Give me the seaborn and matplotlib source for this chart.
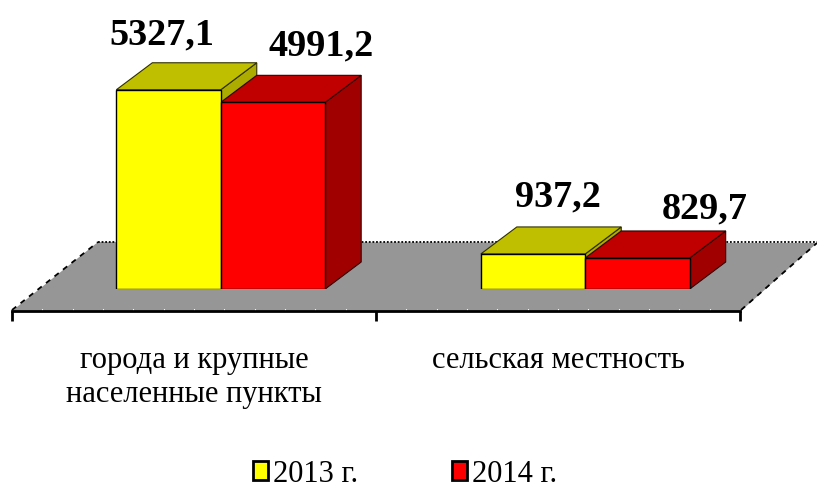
import matplotlib.pyplot as plt
import matplotlib.patches as mpatches
import pandas as pd
import seaborn as sns

categories = ["города и крупные\nнаселенные пункты", "сельская местность"]
years = ["2013 г.", "2014 г."]
values_2013 = [5327.1, 937.2]
values_2014 = [4991.2, 829.7]

W, H = 817, 490
# pixels per unit of value, bar plane
SCALE = 0.0374
BASE_Y = 289
DEPTH_PX = (36, 27)
# hand placed value labels in the original (px from top-left corner of front face)
LABEL_OFFSETS = [[(46, -55), (100, -56)], [(77, -57), (119, -49)]]

df = pd.DataFrame({
    "cat": categories * 2,
    "year": [years[0]] * 2 + [years[1]] * 2,
    "value": values_2013 + values_2014,
})

sns.set_theme(style="white")
plt.rcParams["font.family"] = ["Liberation Serif", "DejaVu Serif"]

fig = plt.figure(figsize=(W / 100, H / 100), dpi=100)

# floor and back edges, in pixels
bg = fig.add_axes([0, 0, 1, 1])
bg.set_xlim(0, W)
bg.set_ylim(H, 0)
bg.axis("off")
floor = [(12, 311), (741, 311), (817, 243), (98, 242)]
bg.add_patch(mpatches.Polygon(floor, closed=True, facecolor="#969696", edgecolor="none"))
bg.plot([98, 817], [242, 242], color="black", lw=1.3, ls=(0, (1, 1)))
bg.plot([12, 98], [310, 242], color="black", lw=1.3, ls=(0, (3, 3)))
bg.plot([741, 817], [310, 243], color="black", lw=1.3, ls=(0, (3, 3)))

# front axis with the category labels
axis_ax = fig.add_axes([12 / W, (H - 311) / H, 728 / W, 0.001])
axis_ax.patch.set_alpha(0)
for s in ["top", "left", "right"]:
    axis_ax.spines[s].set_visible(False)
axis_ax.spines["bottom"].set_linewidth(2)
axis_ax.spines["bottom"].set_color("black")
axis_ax.set_xlim(-0.5, 1.5)
axis_ax.set_yticks([])
axis_ax.set_xticks([0, 1])
axis_ax.set_xticklabels(categories, fontsize=22, linespacing=1.25, color="black")
axis_ax.tick_params(axis="x", which="major", length=0, pad=25)
axis_ax.set_xticks([-0.5, 0.5, 1.5], minor=True)
axis_ax.tick_params(axis="x", which="minor", length=7, width=2, color="black", bottom=True)
for i in range(1, 24):
    if i != 12:
        x = 12 + i * 728 / 24
        bg.plot([x, x], [309, 312], color="white", lw=0.8, zorder=5)

# bars
ax = fig.add_axes([38.5 / W, (H - BASE_Y) / H, 729 / W, BASE_Y / H])
ax.patch.set_alpha(0)
sns.barplot(
    data=df, x="cat", y="value", hue="year",
    palette=["#FFFF00", "#FF0000"], width=0.573, gap=0,
    edgecolor="black", linewidth=1, saturation=1, ax=ax,
)
ax.set_xlim(-0.5, 1.5)
ax.set_ylim(0, BASE_Y / SCALE)
ax.axis("off")

dx = DEPTH_PX[0] * 2 / 729
dy = DEPTH_PX[1] / SCALE
shades = [("#BFBF00", "#ABAB00"), ("#C00000", "#A00000")]
for k, cont in enumerate(ax.containers):
    top_c, side_c = shades[k]
    for j, bar in enumerate(cont):
        x0, x1 = bar.get_x(), bar.get_x() + bar.get_width()
        h = bar.get_height()
        bar.set_zorder(4)
        top = [(x0, h), (x1, h), (x1 + dx, h + dy), (x0 + dx, h + dy)]
        side = [(x1, 0), (x1 + dx, dy), (x1 + dx, h + dy), (x1, h)]
        z = 2 + k * 0.5
        ax.add_patch(mpatches.Polygon(side, closed=True, facecolor=side_c, edgecolor="#300000" if k else "#303000", lw=0.8, zorder=z))
        ax.add_patch(mpatches.Polygon(top, closed=True, facecolor=top_c, edgecolor="#300000" if k else "#303000", lw=0.8, zorder=z + 0.1))
        off = LABEL_OFFSETS[j][k]
        ax.annotate(
            f"{h:.1f}".replace(".", ","), xy=(x0, h), xycoords="data",
            xytext=(off[0] * 0.72, -off[1] * 0.72), textcoords="offset points",
            ha="center", va="center", fontsize=27.5, fontweight="bold",
            color="black", annotation_clip=False,
        )

handles, labels = ax.get_legend_handles_labels()
for hd in handles:
    hd.set_edgecolor("black")
    hd.set_linewidth(2)
ax.legend(
    handles, labels, loc="center", bbox_to_anchor=(405 / W, (H - 474) / H),
    bbox_transform=fig.transFigure, ncol=2, frameon=False, fontsize=22,
    handlelength=0.5, handleheight=0.6, handletextpad=0.18, columnspacing=3.05,
    borderpad=0, labelcolor="black",
)

fig.savefig("out.png", dpi=100)
